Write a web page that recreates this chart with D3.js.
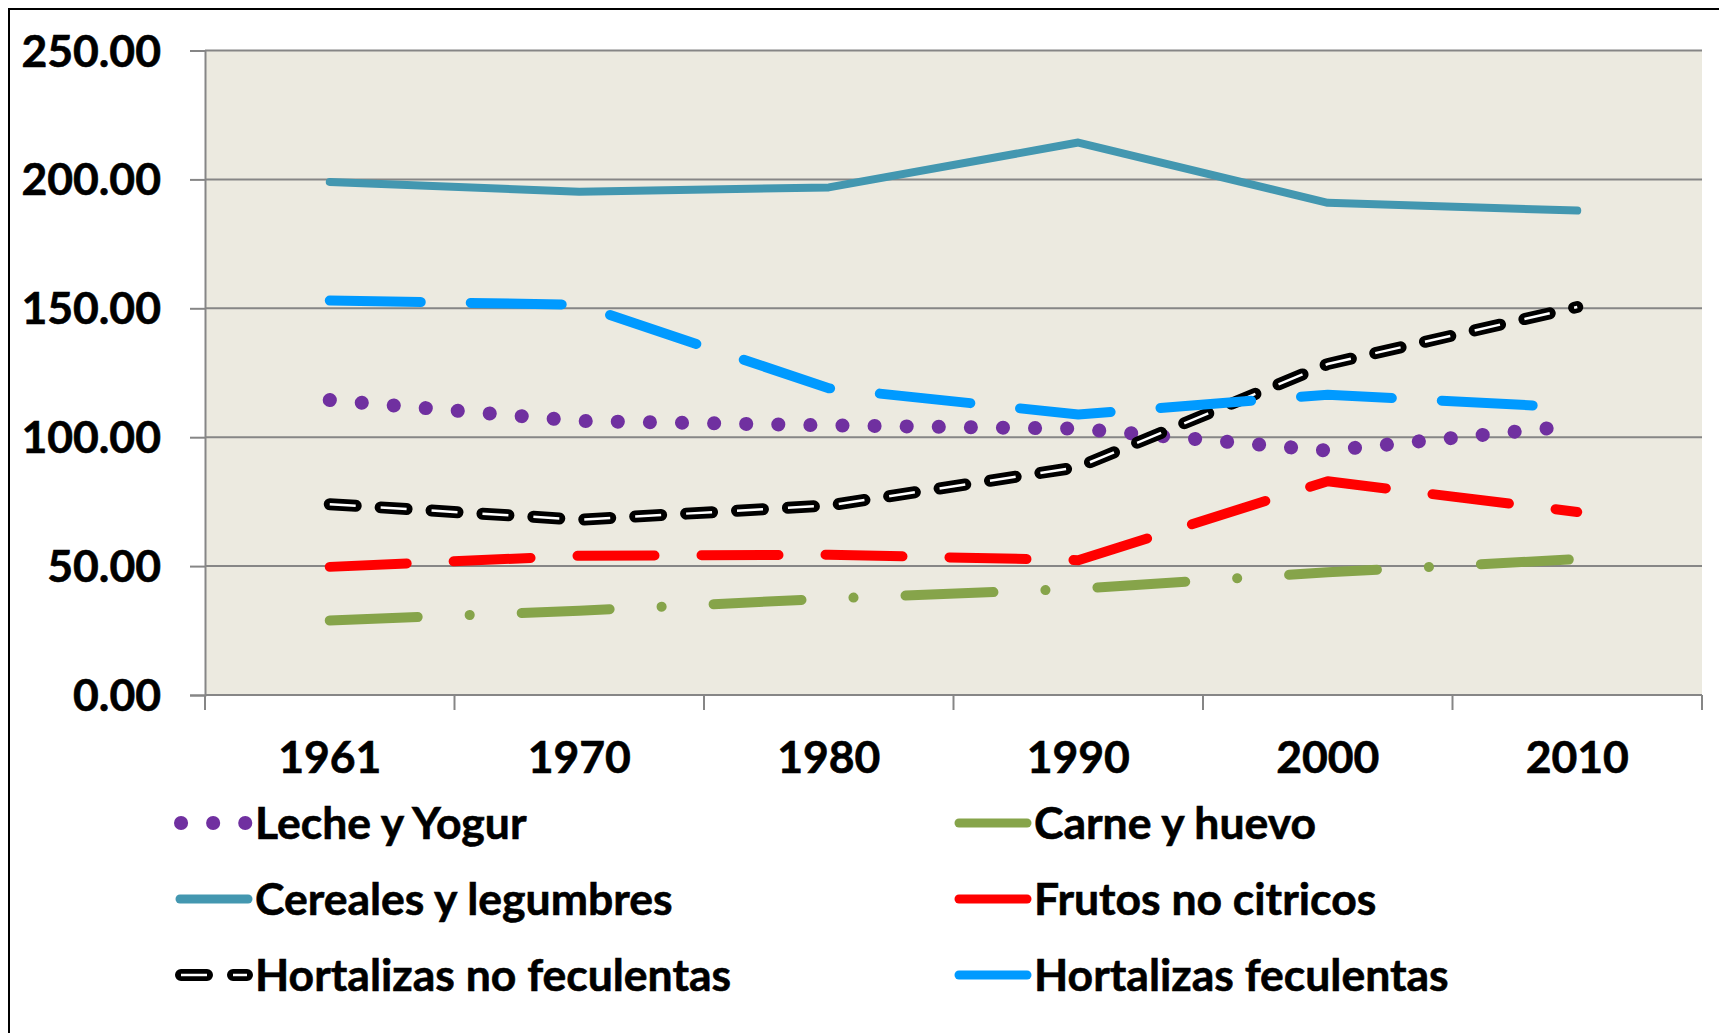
<!DOCTYPE html>
<html>
<head>
<meta charset="utf-8">
<script src="https://cdn.jsdelivr.net/npm/d3@7"></script>
<style>
  html, body { margin: 0; padding: 0; background: #ffffff; }
  svg { display: block; }
</style>
</head>
<body>
<div id="chart"></div>
<script>
const years = ['1961', '1970', '1980', '1990', '2000', '2010']
const yTicks = [0, 50, 100, 150, 200, 250]

const lecheYogur = [114.4, 106.3, 104.6, 103.3, 94.8, 104.6]
const carneHuevo = [28.9, 32.7, 37.4, 41.2, 47.6, 52.7]
const cerealesLegumbres = [199.0, 195.2, 196.9, 214.3, 190.9, 187.9]
const frutosNoCitricos = [49.7, 54.0, 54.4, 52.3, 82.9, 71.0]
const hortalizasNoFeculentas = [74.0, 68.0, 73.5, 88.4, 128.4, 150.5]
const hortalizasFeculentas = [153.0, 151.4, 119.0, 108.8, 116.5, 111.4]

const seriesNames = [
  'Leche y Yogur',
  'Carne y huevo',
  'Cereales y legumbres',
  'Frutos no citricos',
  'Hortalizas no feculentas',
  'Hortalizas feculentas',
]

const W = 1719
const H = 1033
const FONT = 'Lato, Calibri, "Open Sans", sans-serif'
const FONT_SIZE = 44.5

// line styles per series
const styles = [
  { color: '#7030A0', width: 14, dash: '0.1 32' },
  { color: '#86A44A', width: 10, dash: '88 52 0.1 52' },
  { color: '#4397B0', width: 8, dash: null },
  { color: '#FF0000', width: 10, dash: '77 47' },
  { color: '#000000', width: 12, dash: '26 25', inner: '#ffffff' },
  { color: '#009AFF', width: 10, dash: '91 50' },
]

const seriesValues = [
  lecheYogur,
  carneHuevo,
  cerealesLegumbres,
  frutosNoCitricos,
  hortalizasNoFeculentas,
  hortalizasFeculentas,
]

const plot = { left: 205, right: 1702, top: 50.5, bottom: 695 }

const svg = d3.select('#chart').append('svg').attr('width', W).attr('height', H)

svg.append('rect').attr('width', W).attr('height', H).attr('fill', '#ffffff')

// outer border
svg
  .append('rect')
  .attr('x', 9)
  .attr('y', 9)
  .attr('width', W + 10)
  .attr('height', H + 10)
  .attr('fill', 'none')
  .attr('stroke', '#000000')
  .attr('stroke-width', 2)

const x = d3.scaleBand().domain(years).range([plot.left, plot.right]).padding(0)
const y = d3.scaleLinear().domain([0, 250]).range([plot.bottom, plot.top])

// plot background
svg
  .append('rect')
  .attr('x', plot.left)
  .attr('y', plot.top)
  .attr('width', plot.right - plot.left)
  .attr('height', plot.bottom - plot.top)
  .attr('fill', '#ECEAE0')

// gridlines
svg
  .append('g')
  .selectAll('line')
  .data(yTicks.filter((d) => d > 0))
  .join('line')
  .attr('x1', plot.left)
  .attr('x2', plot.right)
  .attr('y1', (d) => y(d))
  .attr('y2', (d) => y(d))
  .attr('stroke', '#868686')
  .attr('stroke-width', 2)

const boldText = (sel) =>
  sel
    .attr('font-family', FONT)
    .attr('font-size', FONT_SIZE)
    .attr('font-weight', 'bold')
    .attr('fill', '#000000')
    .attr('stroke', '#000000')
    .attr('stroke-width', 0.6)

// y axis
const yAxis = svg
  .append('g')
  .attr('transform', `translate(${plot.left},0)`)
  .call(
    d3
      .axisLeft(y)
      .tickValues(yTicks)
      .tickSize(15)
      .tickPadding(29)
      .tickFormat(d3.format('.2f'))
  )
yAxis.select('.domain').attr('stroke', '#868686').attr('stroke-width', 2)
yAxis.selectAll('.tick line').attr('stroke', '#868686').attr('stroke-width', 2)
yAxis.selectAll('.tick text').call(boldText).attr('dy', '0.35em')

// x axis: ticks at category boundaries
const xAxis = svg
  .append('g')
  .attr('transform', `translate(0,${plot.bottom})`)
xAxis
  .append('line')
  .attr('x1', plot.left)
  .attr('x2', plot.right)
  .attr('stroke', '#868686')
  .attr('stroke-width', 2)
const boundaries = years.map((d) => x(d)).concat([x(years[years.length - 1]) + x.bandwidth()])
xAxis
  .selectAll('line.tick')
  .data(boundaries)
  .join('line')
  .attr('class', 'tick')
  .attr('x1', (d) => d)
  .attr('x2', (d) => d)
  .attr('y1', 0)
  .attr('y2', 15)
  .attr('stroke', '#868686')
  .attr('stroke-width', 2)
xAxis
  .selectAll('text')
  .data(years)
  .join('text')
  .attr('x', (d) => x(d) + x.bandwidth() / 2)
  .attr('y', 78)
  .attr('text-anchor', 'middle')
  .call(boldText)
  .text((d) => d)

// series lines
const line = d3
  .line()
  .x((d, i) => x(years[i]) + x.bandwidth() / 2)
  .y((d) => y(d))

const drawStyled = (g, pathD, st) => {
  g.append('path')
    .attr('d', pathD)
    .attr('fill', 'none')
    .attr('stroke', st.color)
    .attr('stroke-width', st.width)
    .attr('stroke-linecap', 'round')
    .attr('stroke-linejoin', 'round')
    .attr('stroke-dasharray', st.dash)
  if (st.inner) {
    g.append('path')
      .attr('d', pathD)
      .attr('fill', 'none')
      .attr('stroke', st.inner)
      .attr('stroke-width', 2.5)
      .attr('stroke-linecap', 'butt')
      .attr('stroke-dasharray', st.dash)
  }
}

const linesG = svg.append('g')
seriesValues.forEach((vals, i) => {
  drawStyled(linesG, line(vals), styles[i])
})

// legend
const legendCols = [175, 954]
const legendRows = [839, 915, 991]
const legend = svg.append('g')
seriesNames.forEach((name, i) => {
  const cx = legendCols[i % 2]
  const by = legendRows[Math.floor(i / 2)]
  const my = by - 16
  const st = styles[i]
  let x1 = cx + 5
  let x2 = cx + 73
  let dash = null
  let width = 9
  if (i === 0) {
    x1 = cx + 6
    x2 = cx + 72
    dash = '0.1 32'
    width = st.width
  } else if (i === 4) {
    x1 = cx + 6
    x2 = cx + 72
    dash = '26 26'
    width = st.width
  }
  drawStyled(legend, `M${x1},${my}L${x2},${my}`, { ...st, dash, width })
  legend
    .append('text')
    .attr('x', cx + 80)
    .attr('y', by)
    .call(boldText)
    .text(name)
})
</script>
</body>
</html>
